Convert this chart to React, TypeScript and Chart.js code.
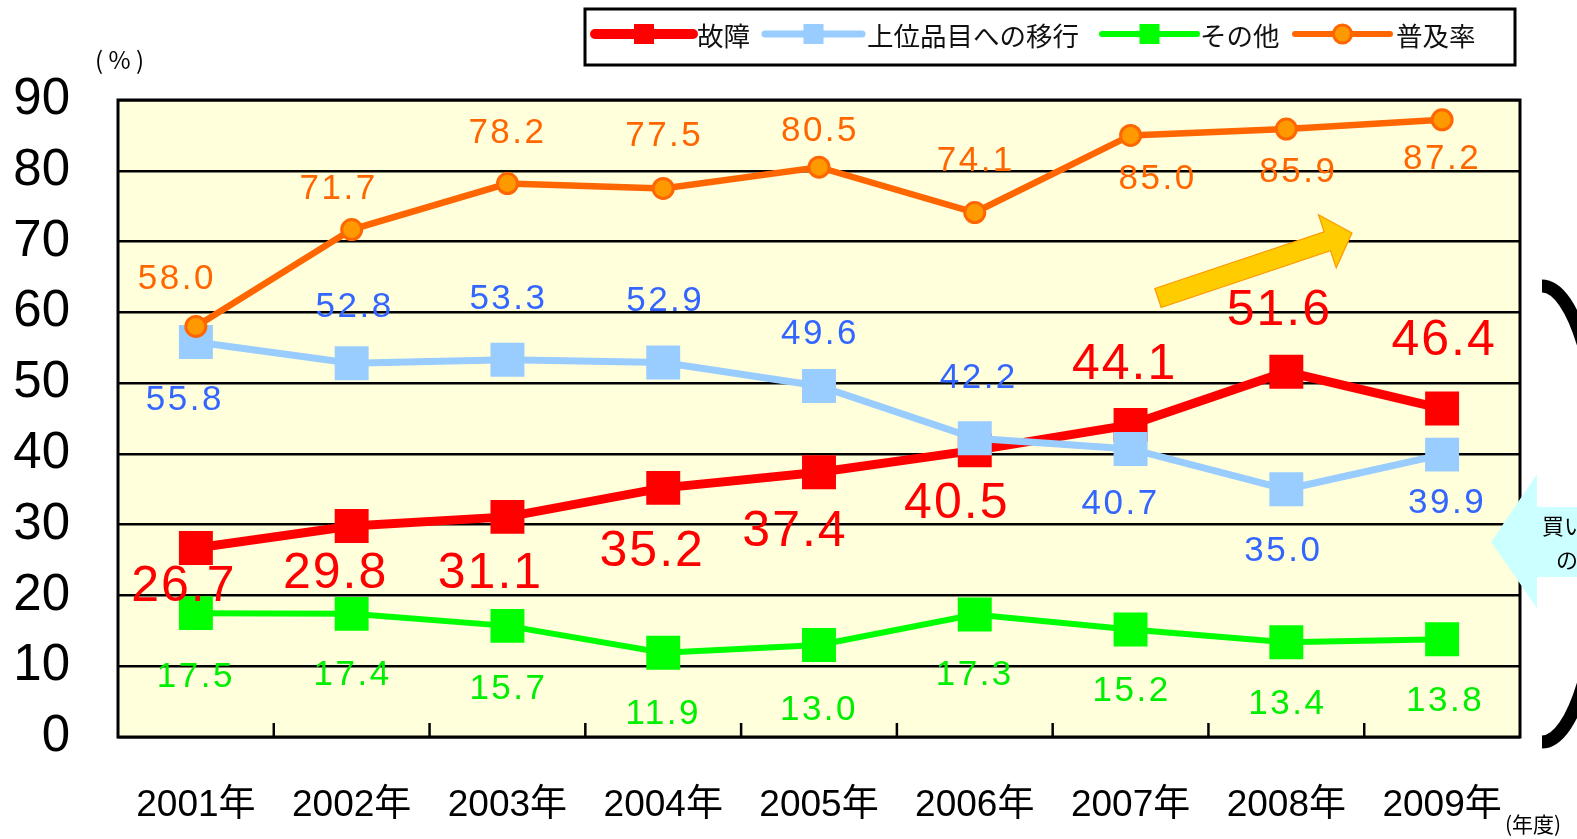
import React, { useEffect, useRef } from 'react';
import { Chart, registerables } from 'chart.js';

Chart.register(...registerables);

// ---- data ----
const categories = ['2001年', '2002年', '2003年', '2004年', '2005年', '2006年', '2007年', '2008年', '2009年'];
const failure = [26.7, 29.8, 31.1, 35.2, 37.4, 40.5, 44.1, 51.6, 46.4];
const upgrade = [55.8, 52.8, 53.3, 52.9, 49.6, 42.2, 40.7, 35.0, 39.9];
const other = [17.5, 17.4, 15.7, 11.9, 13.0, 17.3, 15.2, 13.4, 13.8];
const penetration = [58.0, 71.7, 78.2, 77.5, 80.5, 74.1, 85.0, 85.9, 87.2];
const seriesNames = ['故障', '上位品目への移行', 'その他', '普及率'];
const yMin = 0;
const yMax = 90;
const yStep = 10;

// ---- label placement (pixel offsets from each point) ----
const failureLabelOffsets: [number, number][] = [[-12, 39], [-16, 48], [-17, 57], [-11, 64], [-24, 60], [-18, 54], [-6, -60], [-7, -61], [2, -67]];
const upgradeLabelOffsets: [number, number][] = [[-11, 58], [3, -56], [1, -60], [2, -61], [1, -52], [4, -60], [-10, 55], [-3, 62], [5, 49]];
const otherLabelOffsets: [number, number][] = [[0, 64], [1, 61], [1, 63], [0, 62], [0, 65], [0, 61], [1, 62], [1, 62], [3, 62]];
const penetrationLabelOffsets: [number, number][] = [[-19, -47], [-13, -40], [0, -50], [1, -52], [1, -36], [1, -51], [27, 44], [12, 43], [0, 40]];

const SANS = "'Liberation Sans', Arial, 'Noto Sans CJK JP', sans-serif";
const CJK = "'Noto Sans CJK JP', 'Liberation Sans', sans-serif";

const RED = '#FF0000';
const LBLUE = '#99CCFF';
const BLUE_TXT = '#3366FF';
const GREEN = '#00FF00';
const ORANGE = '#FF6600';
const ORANGE_FILL = '#FF9900';

const decorPlugin = {
  id: 'decor',
  beforeDraw(chart: any) {
    const { ctx, chartArea: a } = chart;
    ctx.save();
    ctx.fillStyle = '#FFFFDC';
    ctx.fillRect(a.left, a.top, a.right - a.left, a.bottom - a.top);
    ctx.restore();
  },
  beforeDatasetsDraw(chart: any) {
    const { ctx, chartArea: a } = chart;
    const xs = chart.scales.x;
    ctx.save();
    ctx.strokeStyle = '#000';
    ctx.lineWidth = 3;
    ctx.strokeRect(a.left, a.top, a.right - a.left, a.bottom - a.top);
    ctx.lineWidth = 2.5;
    for (let i = 0; i < categories.length - 1; i++) {
      const x = (xs.getPixelForValue(i) + xs.getPixelForValue(i + 1)) / 2;
      ctx.beginPath();
      ctx.moveTo(x, a.bottom);
      ctx.lineTo(x, a.bottom - 14);
      ctx.stroke();
    }
    ctx.restore();
  },
  afterDatasetsDraw(chart: any) {
    const { ctx } = chart;
    ctx.save();
    // yellow trend arrow
    const tail = { x: 1158, y: 298 };
    const tip = { x: 1352, y: 233 };
    const ang = Math.atan2(tip.y - tail.y, tip.x - tail.x);
    const len = Math.hypot(tip.x - tail.x, tip.y - tail.y);
    const headLen = 26;
    const shaftW = 20;
    const headW = 56;
    ctx.translate(tail.x, tail.y);
    ctx.rotate(ang);
    ctx.beginPath();
    ctx.moveTo(0, -shaftW / 2);
    ctx.lineTo(len - headLen, -shaftW / 2);
    ctx.lineTo(len - headLen, -headW / 2);
    ctx.lineTo(len, 0);
    ctx.lineTo(len - headLen, headW / 2);
    ctx.lineTo(len - headLen, shaftW / 2);
    ctx.lineTo(0, shaftW / 2);
    ctx.closePath();
    ctx.fillStyle = '#FFCC00';
    ctx.fill();
    ctx.strokeStyle = '#FF9900';
    ctx.lineWidth = 1.2;
    ctx.stroke();
    ctx.restore();

    // value labels
    const groups = [
      { di: 0, values: failure, offs: failureLabelOffsets, color: RED, size: 50, sp: '2px' },
      { di: 1, values: upgrade, offs: upgradeLabelOffsets, color: BLUE_TXT, size: 35, sp: '2.5px' },
      { di: 2, values: other, offs: otherLabelOffsets, color: '#00EE00', size: 35, sp: '2.5px' },
      { di: 3, values: penetration, offs: penetrationLabelOffsets, color: ORANGE, size: 35, sp: '2.5px' },
    ];
    ctx.save();
    ctx.textAlign = 'center';
    ctx.textBaseline = 'middle';
    for (const g of groups) {
      const meta = chart.getDatasetMeta(g.di);
      ctx.fillStyle = g.color;
      ctx.font = `${g.size}px ${SANS}`;
      (ctx as any).letterSpacing = g.sp;
      meta.data.forEach((pt: any, i: number) => {
        const [dx, dy] = g.offs[i];
        ctx.fillText(g.values[i].toFixed(1), pt.x + dx, pt.y + dy);
      });
    }
    ctx.restore();
  },
  afterDraw(chart: any) {
    const { ctx } = chart;
    ctx.save();
    // cyan arrow at right
    ctx.beginPath();
    ctx.moveTo(1491, 542);
    ctx.lineTo(1537, 474);
    ctx.lineTo(1537, 507);
    ctx.lineTo(1590, 507);
    ctx.lineTo(1590, 577);
    ctx.lineTo(1537, 577);
    ctx.lineTo(1537, 608);
    ctx.closePath();
    ctx.fillStyle = '#CCFFFF';
    ctx.fill();
    ctx.fillStyle = '#000';
    ctx.font = `22px ${CJK}`;
    ctx.textAlign = 'left';
    ctx.textBaseline = 'middle';
    ctx.fillText('買い', 1542, 526);
    ctx.fillText('の', 1556, 560);

    // bracket
    ctx.beginPath();
    ctx.ellipse(1542, 514, 62, 228, 0, -Math.PI / 2, Math.PI / 2);
    ctx.strokeStyle = '#000';
    ctx.lineWidth = 13;
    ctx.lineCap = 'butt';
    ctx.stroke();

    // unit texts
    ctx.font = `24px ${CJK}`;
    ctx.textAlign = 'left';
    ctx.fillText('( % )', 95, 60);
    ctx.font = `21px ${CJK}`;
    ctx.fillText('(年度)', 1505, 824);

    // legend
    ctx.fillStyle = '#FFFFFF';
    ctx.fillRect(585, 9, 930, 56);
    ctx.strokeStyle = '#000';
    ctx.lineWidth = 3;
    ctx.strokeRect(585, 9, 930, 56);
    const ly = 34;
    const items = [
      { x1: 595, x2: 693, lw: 10, color: RED, marker: 'rect', tx: 697 },
      { x1: 765, x2: 862, lw: 7, color: LBLUE, marker: 'rect', tx: 867 },
      { x1: 1102, x2: 1197, lw: 6, color: GREEN, marker: 'rect', tx: 1200 },
      { x1: 1295, x2: 1390, lw: 6, color: ORANGE, marker: 'circle', tx: 1396 },
    ];
    items.forEach((it, i) => {
      ctx.beginPath();
      ctx.moveTo(it.x1, ly);
      ctx.lineTo(it.x2, ly);
      ctx.strokeStyle = it.color;
      ctx.lineWidth = it.lw;
      ctx.lineCap = 'round';
      ctx.stroke();
      const cx = (it.x1 + it.x2) / 2;
      if (it.marker === 'rect') {
        ctx.fillStyle = it.color;
        ctx.fillRect(cx - 10, ly - 10, 20, 20);
      } else {
        ctx.beginPath();
        ctx.arc(cx, ly, 9, 0, Math.PI * 2);
        ctx.fillStyle = ORANGE_FILL;
        ctx.fill();
        ctx.strokeStyle = ORANGE;
        ctx.lineWidth = 3;
        ctx.stroke();
      }
      ctx.fillStyle = '#111';
      ctx.font = `26.5px ${CJK}`;
      ctx.textAlign = 'left';
      ctx.textBaseline = 'middle';
      ctx.fillText(seriesNames[i], it.tx, ly + 2);
    });
    ctx.restore();
  },
};

export default function App() {
  const ref = useRef<HTMLCanvasElement | null>(null);
  useEffect(() => {
    if (!ref.current) return;
    const chart = new Chart(ref.current, {
      type: 'line',
      data: {
        labels: categories,
        datasets: [
          {
            label: seriesNames[0], data: failure, borderColor: RED, backgroundColor: RED,
            borderWidth: 9, pointStyle: 'rect', pointRadius: 24, pointBorderWidth: 0,
            pointBackgroundColor: RED, order: 3, tension: 0, clip: false,
          },
          {
            label: seriesNames[1], data: upgrade, borderColor: LBLUE, backgroundColor: LBLUE,
            borderWidth: 7, pointStyle: 'rect', pointRadius: 24, pointBorderWidth: 0,
            pointBackgroundColor: LBLUE, order: 2, tension: 0, clip: false,
          },
          {
            label: seriesNames[2], data: other, borderColor: GREEN, backgroundColor: GREEN,
            borderWidth: 6, pointStyle: 'rect', pointRadius: 24, pointBorderWidth: 0,
            pointBackgroundColor: GREEN, order: 1, tension: 0, clip: false,
          },
          {
            label: seriesNames[3], data: penetration, borderColor: ORANGE, backgroundColor: ORANGE_FILL,
            borderWidth: 6.5, pointStyle: 'circle', pointRadius: 10, pointBorderWidth: 3,
            pointBackgroundColor: ORANGE_FILL, pointBorderColor: ORANGE, order: 0, tension: 0, clip: false,
          },
        ],
      } as any,
      options: {
        animation: false,
        responsive: false,
        devicePixelRatio: 1,
        layout: { padding: { top: 100, right: 57, left: 0, bottom: 0 } },
        plugins: { legend: { display: false }, tooltip: { enabled: false } },
        scales: {
          x: {
            type: 'category',
            offset: true,
            grid: { display: false, drawTicks: false },
            border: { display: false },
            ticks: {
              font: { size: 37, family: SANS },
              color: '#000',
              padding: 47,
              maxRotation: 0,
              autoSkip: false,
            },
            afterFit: (s: any) => { s.height = 102; },
          },
          y: {
            min: yMin,
            max: yMax,
            ticks: {
              stepSize: yStep,
              font: { size: 51, family: SANS },
              color: '#000',
              padding: 48,
            },
            grid: { color: '#000', lineWidth: 2.5, drawTicks: false },
            border: { display: false },
            afterFit: (s: any) => { s.width = 118; },
          },
        },
      } as any,
      plugins: [decorPlugin],
    });
    return () => chart.destroy();
  }, []);
  return (
    <div style={{ position: 'fixed', left: 0, top: 0, width: 1577, height: 839, background: '#fff' }}>
      <canvas ref={ref} width={1577} height={839} style={{ display: 'block' }} />
    </div>
  );
}
